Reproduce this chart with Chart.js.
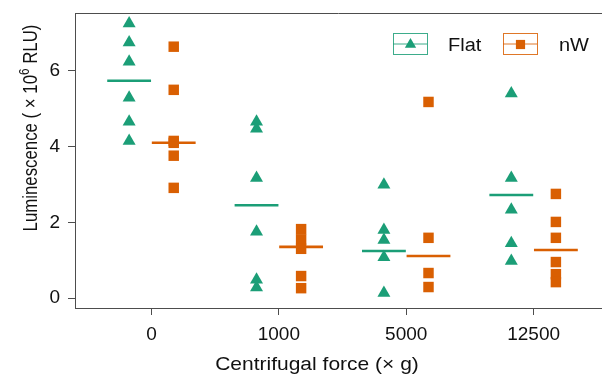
<!DOCTYPE html>
<html>
<head>
<meta charset="utf-8">
<script src="https://cdn.jsdelivr.net/npm/chart.js@4.4.0/dist/chart.umd.min.js"></script>
<style>
  html, body { margin: 0; padding: 0; background: #fff; overflow: hidden; }
  #wrap { width: 602px; height: 378px; }
  #chart { display: block; }
</style>
</head>
<body>
<div id="wrap"><canvas id="chart" width="602" height="378"></canvas></div>
<script>
// dados (x 10^6 RLU)
const forces = ['0', '1000', '5000', '12500'];
const flatValues = [
  [7.25, 6.75, 6.24, 5.29, 4.66, 4.15],
  [4.66, 4.47, 3.17, 1.75, 0.48, 0.28],
  [2.99, 1.80, 1.53, 1.08, 0.13],
  [5.40, 3.17, 2.33, 1.45, 0.98]
];
const nwValues = [
  [6.64, 5.50, 4.15, 4.10, 3.76, 2.91],
  [1.82, 1.55, 1.30, 0.58, 0.26],
  [5.18, 1.59, 0.66, 0.29],
  [2.75, 2.01, 1.59, 0.95, 0.63, 0.42]
];
const flatMedians = [5.74, 2.45, 1.24, 2.72];
const nwMedians = [4.10, 1.35, 1.11, 1.27];
const yTicks = [0, 2, 4, 6];

const GREEN = '#1b9e77';
const ORANGE = '#d95f02';
const FONT = '"Liberation Sans", Arial, Helvetica, sans-serif';
const AXIS = '#4d4d4d';

// deslocamento de cada grupo dentro da categoria
const OFFSET = 0.175;
const HALF = 0.172;
// a figura original parece achatada na vertical
const SQUASH = 0.88;

function pointsOf(groups, dx) {
    const out = [];
    groups.forEach((vals, i) => vals.forEach(v => out.push({ x: i + dx, y: v })));
    return out;
}

function medianSegments(meds, dx) {
    const out = [];
    meds.forEach((m, i) => {
        out.push({ x: i + dx - HALF, y: m });
        out.push({ x: i + dx + HALF, y: m });
        out.push({ x: i + dx + 0.5, y: null });
    });
    return out;
}

Chart.defaults.font.family = FONT;

// o painel vai ate a borda direita (figura cortada)
const stretchPlugin = {
    id: 'stretch',
    afterLayout(chart) {
        const right = chart.width;
        chart.chartArea.right = right;
        chart.chartArea.width = right - chart.chartArea.left;
        const xs = chart.scales.x;
        xs.right = right;
        xs.width = right - xs.left;
        xs.configure();
    }
};

// titulos, borda superior e legenda
const decorPlugin = {
    id: 'decor',
    afterDraw(chart) {
        const ctx = chart.ctx;
        const a = chart.chartArea;
        ctx.save();

        // borda superior do painel
        ctx.strokeStyle = AXIS;
        ctx.lineWidth = 1;
        ctx.beginPath();
        ctx.moveTo(a.left, a.top + 0.5);
        ctx.lineTo(a.right, a.top + 0.5);
        ctx.stroke();

        ctx.fillStyle = '#111';
        ctx.textBaseline = 'alphabetic';

        // titulo eixo x
        ctx.save();
        ctx.translate(317, 370);
        ctx.scale(1, SQUASH);
        ctx.font = '21px ' + FONT;
        ctx.textAlign = 'center';
        ctx.fillText('Centrifugal force (\u00d7 g)', 0, 0);
        ctx.restore();

        // titulo eixo y com expoente
        const p1 = 'Luminescence ( \u00d7 10', sup = '6', p2 = ' RLU)';
        ctx.font = '20px ' + FONT;
        const w1 = ctx.measureText(p1).width, w3 = ctx.measureText(p2).width;
        ctx.font = '14px ' + FONT;
        const w2 = ctx.measureText(sup).width;
        const total = w1 + w2 + w3;
        ctx.save();
        ctx.translate(37, 128);
        ctx.rotate(-Math.PI / 2);
        ctx.scale(0.84, 1);
        ctx.textAlign = 'left';
        let x = -total / 2;
        ctx.font = '20px ' + FONT;
        ctx.fillText(p1, x, 0);
        x += w1;
        ctx.font = '14px ' + FONT;
        ctx.fillText(sup, x, -8);
        x += w2;
        ctx.font = '20px ' + FONT;
        ctx.fillText(p2, x, 0);
        ctx.restore();

        // legenda
        const keys = [
            { label: 'Flat', color: GREEN, style: 'triangle', bx: 393, tx: 448 },
            { label: 'nW', color: ORANGE, style: 'rect', bx: 503, tx: 559 }
        ];
        keys.forEach(k => {
            const by = 33, bw = 34, bh = 21;
            ctx.strokeStyle = k.color;
            ctx.globalAlpha = 0.85;
            ctx.lineWidth = 1;
            ctx.strokeRect(k.bx + 0.5, by + 0.5, bw, bh);
            ctx.beginPath();
            ctx.moveTo(k.bx, by + bh / 2 + 0.5);
            ctx.lineTo(k.bx + bw, by + bh / 2 + 0.5);
            ctx.stroke();
            ctx.globalAlpha = 1;
            ctx.fillStyle = k.color;
            Chart.helpers.drawPoint(ctx, { pointStyle: k.style, radius: 6.5, borderWidth: 0 },
                k.bx + bw / 2 + 0.5, by + bh / 2 + 1);
            ctx.save();
            ctx.translate(k.tx, by + bh / 2 + 3);
            ctx.scale(1, SQUASH);
            ctx.fillStyle = '#111';
            ctx.font = '20px ' + FONT;
            ctx.textAlign = 'left';
            ctx.textBaseline = 'middle';
            ctx.fillText(k.label, 0, 0);
            ctx.restore();
        });
        ctx.restore();
    }
};

const ctx = document.getElementById('chart').getContext('2d');
new Chart(ctx, {
    type: 'scatter',
    data: {
        datasets: [
            {
                label: 'Flat median',
                data: medianSegments(flatMedians, -OFFSET),
                showLine: true,
                spanGaps: false,
                borderColor: GREEN,
                borderWidth: 2.6,
                pointRadius: 0,
                order: 0
            },
            {
                label: 'nW median',
                data: medianSegments(nwMedians, OFFSET),
                showLine: true,
                spanGaps: false,
                borderColor: ORANGE,
                borderWidth: 2.6,
                pointRadius: 0,
                order: 0
            },
            {
                label: 'Flat',
                data: pointsOf(flatValues, -OFFSET),
                pointStyle: 'triangle',
                pointRadius: 7.5,
                pointBorderWidth: 0,
                backgroundColor: GREEN,
                borderColor: GREEN,
                order: 1
            },
            {
                label: 'nW',
                data: pointsOf(nwValues, OFFSET),
                pointStyle: 'rect',
                pointRadius: 7.4,
                pointBorderWidth: 0,
                backgroundColor: ORANGE,
                borderColor: ORANGE,
                order: 1
            }
        ]
    },
    options: {
        responsive: false,
        devicePixelRatio: 1,
        animation: false,
        layout: { padding: { top: 13, right: 0, left: 0, bottom: 0 } },
        plugins: {
            legend: { display: false },
            tooltip: { enabled: false }
        },
        scales: {
            x: {
                type: 'linear',
                min: -0.6,
                max: 3.537,
                afterBuildTicks: (scale) => { scale.ticks = forces.map((f, i) => ({ value: i })); },
                afterFit: (scale) => {
                    scale.height = 70;
                    scale.paddingLeft = 0;
                    scale.paddingRight = 0;
                },
                ticks: {
                    callback: (v) => forces[v],
                    color: '#111',
                    font: { size: 19 },
                    padding: 8,
                    maxRotation: 0,
                    autoSkip: false
                },
                grid: {
                    display: true,
                    drawOnChartArea: false,
                    drawTicks: true,
                    tickLength: 7,
                    tickColor: AXIS,
                    tickWidth: 1
                },
                border: { display: true, color: AXIS, width: 1 }
            },
            y: {
                min: -0.264,
                max: 7.53,
                afterBuildTicks: (scale) => { scale.ticks = yTicks.map(v => ({ value: v })); },
                afterFit: (scale) => {
                    scale.width = 75;
                    scale.paddingTop = 0;
                    scale.paddingBottom = 0;
                },
                ticks: {
                    color: '#111',
                    font: { size: 19 },
                    padding: 8
                },
                grid: {
                    display: true,
                    drawOnChartArea: false,
                    drawTicks: true,
                    tickLength: 7,
                    tickColor: AXIS,
                    tickWidth: 1
                },
                border: { display: true, color: AXIS, width: 1 }
            }
        }
    },
    plugins: [stretchPlugin, decorPlugin]
});
</script>
</body>
</html>
